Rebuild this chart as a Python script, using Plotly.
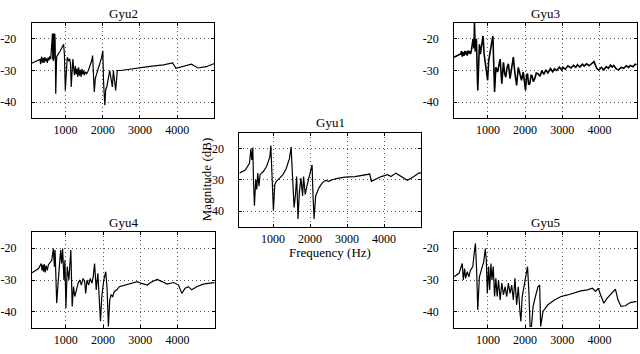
import plotly.graph_objects as go

FONT = "Liberation Serif"

# ---------------- data (Hz, dB) ----------------
gyu2_f = [90, 267, 311, 330, 356, 380, 400, 420, 444, 470,
          490, 510, 532, 555, 577, 600, 621, 640, 648, 655,
          662, 670, 678, 686, 694, 702, 710, 720, 736, 760,
          780, 850, 913, 948, 970, 993, 1046, 1081, 1110, 1134,
          1152, 1196, 1220, 1241, 1263, 1285, 1307, 1329, 1351, 1373,
          1395, 1418, 1440, 1462, 1484, 1506, 1530, 1568, 1612, 1656,
          1701, 1727, 1772, 1800, 1842, 1900, 1966, 2002, 2019, 2055,
          2080, 2108, 2143, 2187, 2258, 2285, 2347, 2391, 2480, 2745,
          3011, 3276, 3630, 3878, 3966, 4117, 4382, 4559, 4781, 5000]
gyu2_db = [-27.7, -26.9, -26.5, -28.0, -25.6, -27.5, -26.0, -27.6, -25.8, -27.1,
           -26.2, -27.6, -25.9, -26.8, -25.5, -26.4, -23.2, -21.0, -18.3, -26.0,
           -18.3, -27.0, -18.3, -26.5, -18.3, -25.5, -18.3, -20.5, -37.3, -25.8,
           -25.2, -24.0, -22.5, -21.7, -25.0, -36.3, -25.8, -27.0, -26.3, -28.0,
           -35.2, -26.4, -29.5, -31.5, -28.6, -31.2, -29.4, -32.0, -29.0, -31.6,
           -29.8, -32.0, -29.5, -31.2, -30.0, -31.5, -30.4, -31.0, -30.0, -28.8,
           -27.0, -25.3, -36.8, -32.5, -31.0, -28.5, -26.0, -23.8, -33.0, -41.0,
           -36.0, -35.2, -33.0, -30.0, -35.2, -30.0, -36.3, -30.0, -30.0, -29.5,
           -29.0, -28.7, -28.2, -27.6, -29.3, -28.8, -28.0, -29.2, -28.8, -27.8]

gyu3_f = [90, 200, 267, 290, 311, 335, 356, 380, 400, 422,
          444, 466, 488, 510, 532, 559, 577, 600, 625, 639,
          660, 690, 727, 771, 798, 830, 869, 900, 931, 960,
          993, 1020, 1046, 1090, 1134, 1150, 1179, 1214, 1260, 1300,
          1329, 1373, 1418, 1450, 1480, 1515, 1550, 1595, 1640, 1683,
          1727, 1772, 1816, 1860, 1904, 1949, 2011, 2040, 2064, 2095,
          2125, 2160, 2187, 2220, 2258, 2300, 2347, 2400, 2450, 2500,
          2560, 2612, 2680, 2740, 2789, 2850, 2920, 2980, 3011, 3080,
          3150, 3232, 3300, 3360, 3409, 3470, 3540, 3586, 3650, 3720,
          3807, 3852, 3922, 3980, 4050, 4117, 4180, 4240, 4294, 4340,
          4382, 4450, 4515, 4580, 4648, 4720, 4780, 4825, 4900, 4958,
          5000]
gyu3_db = [-25.8, -25.3, -24.8, -23.9, -25.6, -24.2, -25.4, -23.8, -25.0, -24.0,
           -25.3, -23.7, -24.6, -23.9, -24.8, -23.5, -21.7, -20.0, -23.0, -15.0,
           -24.0, -20.0, -36.3, -21.7, -24.8, -22.0, -19.1, -25.0, -28.0, -30.5,
           -33.1, -27.0, -24.8, -22.0, -19.1, -28.0, -36.8, -29.0, -30.5, -28.0,
           -26.4, -34.2, -27.4, -31.0, -32.1, -29.0, -27.9, -32.6, -28.5, -25.8,
           -31.0, -34.7, -29.0, -31.5, -33.1, -30.5, -36.3, -31.5, -31.0, -34.5,
           -34.2, -31.5, -31.6, -33.5, -32.6, -30.8, -31.0, -31.8, -30.0, -31.2,
           -29.8, -30.8, -29.4, -30.4, -29.5, -30.0, -28.9, -29.8, -29.0, -29.6,
           -28.5, -29.2, -28.4, -29.0, -28.2, -28.9, -28.0, -28.6, -27.9, -28.5,
           -27.6, -27.2, -29.3, -29.9, -29.0, -29.8, -28.8, -29.3, -28.3, -28.9,
           -28.4, -29.5, -29.8, -29.0, -29.3, -28.5, -29.0, -28.4, -28.8, -28.0,
           -28.2]

gyu1_f = [90, 249, 364, 400, 426, 453, 471, 497, 533, 559,
          586, 621, 648, 736, 825, 913, 940, 975, 1010, 1046,
          1090, 1179, 1267, 1356, 1444, 1488, 1533, 1568, 1603, 1639,
          1674, 1710, 1754, 1798, 1825, 1869, 1913, 1957, 2010, 2055,
          2081, 2108, 2152, 2241, 2329, 2418, 2506, 2595, 2772, 2949,
          3214, 3480, 3612, 3657, 3745, 3922, 4099, 4187, 4320, 4453,
          4630, 4807, 4940, 5000]
gyu1_db = [-27.9, -26.9, -24.8, -20.1, -23.7, -19.7, -30.0, -38.3, -30.0, -33.1,
           -27.9, -32.1, -28.4, -27.4, -25.8, -22.7, -19.1, -31.0, -39.9, -31.6,
           -30.5, -29.5, -28.4, -26.4, -23.2, -19.6, -31.0, -38.9, -35.2, -29.0,
           -42.5, -34.2, -29.5, -35.2, -29.0, -34.7, -32.1, -30.0, -27.9, -25.3,
           -35.2, -42.5, -35.2, -32.6, -31.0, -30.2, -30.5, -30.0, -29.5, -29.2,
           -29.0, -28.6, -28.2, -30.5, -30.0, -29.0, -28.4, -29.0, -27.9, -29.0,
           -30.2, -29.0, -27.9, -27.8]

gyu4_f = [90, 267, 338, 360, 380, 400, 420, 444, 470, 500,
          532, 577, 621, 665, 692, 710, 754, 798, 860, 887,
          913, 948, 975, 1002, 1037, 1081, 1134, 1170, 1205, 1241,
          1285, 1329, 1373, 1418, 1462, 1506, 1533, 1568, 1612, 1656,
          1701, 1736, 1772, 1816, 1860, 1895, 1931, 1966, 2019, 2072,
          2108, 2143, 2179, 2214, 2258, 2303, 2373, 2435, 2568, 2745,
          2922, 3011, 3188, 3276, 3453, 3586, 3719, 3896, 4028, 4117,
          4205, 4294, 4382, 4515, 4692, 4869, 5000]
gyu4_db = [-27.7, -26.4, -24.8, -27.0, -25.2, -27.4, -25.0, -27.6, -25.5, -27.0,
           -25.2, -24.5, -23.8, -20.1, -25.8, -20.6, -37.3, -30.0, -20.6, -24.8,
           -20.1, -30.0, -23.8, -38.9, -25.8, -30.0, -20.6, -38.3, -32.1, -35.2,
           -32.6, -31.0, -30.0, -31.6, -29.5, -30.5, -34.2, -30.0, -31.6, -29.5,
           -31.0, -29.0, -24.8, -33.1, -27.9, -36.3, -43.0, -35.2, -30.0, -27.4,
           -32.6, -44.6, -36.3, -34.7, -35.2, -33.6, -33.1, -32.1, -31.6, -31.0,
           -30.5, -31.0, -31.6, -30.8, -29.8, -30.5, -31.3, -30.8, -31.6, -34.2,
           -32.6, -32.1, -33.1, -32.1, -31.3, -31.0, -30.8]

gyu5_f = [90, 223, 311, 338, 373, 400, 444, 488, 532, 594,
          630, 665, 700, 727, 771, 824, 887, 931, 957, 984,
          1019, 1046, 1081, 1108, 1143, 1179, 1214, 1249, 1285, 1329,
          1373, 1418, 1462, 1506, 1550, 1595, 1639, 1683, 1727, 1772,
          1816, 1860, 1886, 1922, 1975, 2011, 2064, 2099, 2134, 2170,
          2214, 2276, 2347, 2391, 2418, 2480, 2612, 2789, 2966, 3143,
          3320, 3497, 3674, 3807, 3896, 3966, 4029, 4117, 4206, 4338,
          4427, 4497, 4577, 4692, 4825, 4958, 5000]
gyu5_db = [-29.0, -27.9, -24.8, -30.0, -26.4, -29.5, -27.4, -29.0, -26.9, -25.8,
           -21.7, -18.5, -27.9, -39.4, -29.0, -26.9, -24.3, -20.1, -23.8, -34.2,
           -25.8, -33.1, -24.8, -30.0, -25.8, -35.2, -29.5, -35.2, -30.0, -36.3,
           -31.0, -34.7, -32.1, -35.2, -31.0, -34.2, -31.6, -36.3, -29.5, -37.8,
           -32.1, -39.9, -43.0, -35.2, -32.1, -30.0, -25.8, -33.1, -44.6, -44.6,
           -38.3, -35.2, -32.1, -31.6, -44.6, -39.9, -37.8, -36.3, -35.2, -34.7,
           -34.0, -33.4, -33.1, -32.6, -33.6, -32.6, -34.7, -37.3, -35.7, -34.2,
           -32.9, -36.3, -38.3, -38.1, -37.1, -36.8, -36.8]

titles = ["Gyu1", "Gyu2", "Gyu3", "Gyu4", "Gyu5"]
x_ticks = [1000, 2000, 3000, 4000]
y_ticks = [-20, -30, -40]
y_tick_text = ["-20", "-30", "-40"]
x_range = [90, 5000]
y_range = [-45, -15]

# ---------------- layout geometry (pixels of a 640x354 page) ----------------
W, H = 640, 354
boxes = {  # left, right, top, bottom
    "Gyu1": (234.3, 418.3, 132.7, 226.7),
    "Gyu2": (24.0, 209.0, 23.0, 118.0),
    "Gyu3": (451.7, 636.7, 23.0, 118.0),
    "Gyu4": (24.3, 209.3, 232.3, 327.7),
    "Gyu5": (451.7, 636.7, 232.3, 327.7),
}
series = {
    "Gyu1": (gyu1_f, gyu1_db),
    "Gyu2": (gyu2_f, gyu2_db),
    "Gyu3": (gyu3_f, gyu3_db),
    "Gyu4": (gyu4_f, gyu4_db),
    "Gyu5": (gyu5_f, gyu5_db),
}
line_w = {"Gyu1": 1.2, "Gyu2": 1.2, "Gyu3": 1.6, "Gyu4": 1.2, "Gyu5": 1.2}

fig = go.Figure()
layout = dict(
    width=W, height=H, margin=dict(l=0, r=0, t=0, b=0),
    paper_bgcolor="white", plot_bgcolor="white", showlegend=False,
    font=dict(family=FONT, size=12, color="black"),
)
annotations = []
for i, name in enumerate(titles, start=1):
    l, r, t, b = boxes[name]
    sfx = "" if i == 1 else str(i)
    xa, ya = "xaxis" + sfx, "yaxis" + sfx
    f, db = series[name]
    fig.add_trace(go.Scatter(x=f, y=db, mode="lines",
                             line=dict(color="black", width=line_w[name]),
                             xaxis="x" + sfx, yaxis="y" + sfx))
    common = dict(showline=True, linecolor="black", linewidth=1, mirror="ticks",
                  ticks="inside", ticklen=3, tickcolor="black",
                  showgrid=True, gridcolor="#555", griddash="1px,3px", gridwidth=1,
                  zeroline=False,
                  tickfont=dict(family=FONT, size=12, color="black"))
    layout[xa] = dict(common, domain=[l / W, r / W], range=x_range,
                      tickvals=x_ticks, anchor="y" + sfx, ticklabelstandoff=1)
    layout[ya] = dict(common, domain=[1 - b / H, 1 - t / H], range=y_range,
                      tickvals=y_ticks, ticktext=y_tick_text,
                      anchor="x" + sfx, ticklabelstandoff=12)
    annotations.append(dict(text=name, xref="paper", yref="paper",
                            x=(l + r) / 2 / W, y=1 - (t - 10) / H,
                            xanchor="center", yanchor="middle", showarrow=False,
                            font=dict(family=FONT, size=13, color="black")))

l, r, t, b = boxes["Gyu1"]
annotations.append(dict(text="Frequency (Hz)", xref="paper", yref="paper",
                        x=(l + r) / 2 / W, y=1 - 252 / H, xanchor="center",
                        yanchor="middle", showarrow=False,
                        font=dict(family=FONT, size=13, color="black")))
annotations.append(dict(text="Magnitude (dB)", xref="paper", yref="paper",
                        x=201 / W, y=1 - (t + b) / 2 / H, xanchor="center",
                        yanchor="middle", showarrow=False, textangle=-90,
                        font=dict(family=FONT, size=13, color="black")))
layout["annotations"] = annotations
fig.update_layout(**layout)
fig.write_html("out.html")
